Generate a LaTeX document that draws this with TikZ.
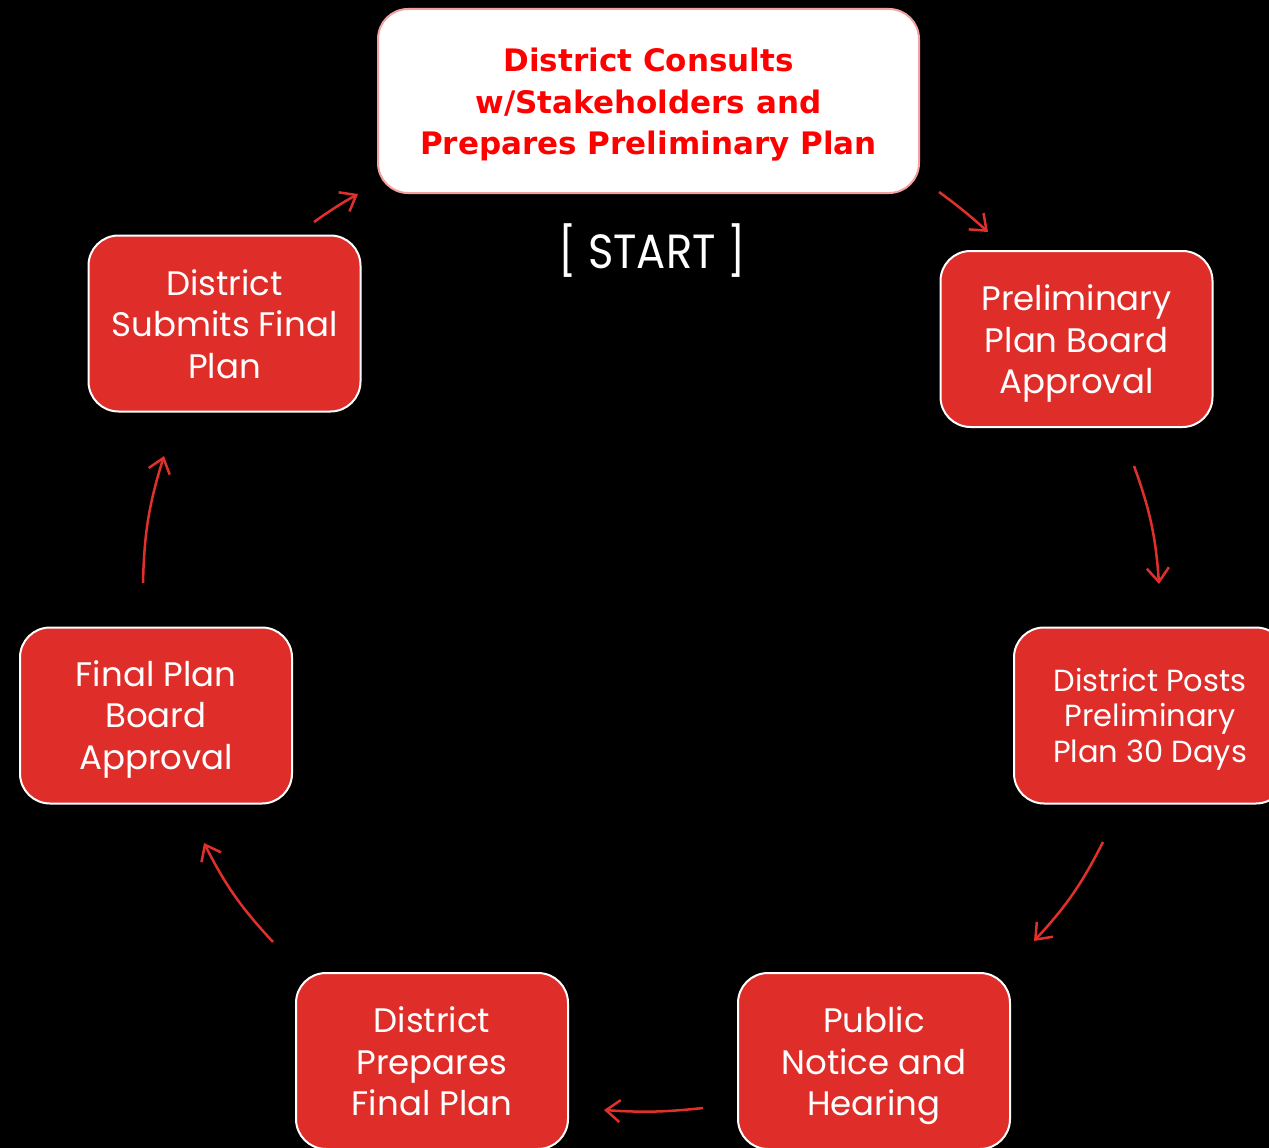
\documentclass[tikz,border=0pt]{standalone}
\usepackage{fontspec}
\setmainfont{Poppins}
\newfontfamily\boldfont{DejaVu Sans}
\usetikzlibrary{arrows.meta}
\definecolor{boxred}{HTML}{DF2E2A}
\definecolor{arrred}{HTML}{E0302C}
\definecolor{txtred}{HTML}{FF0000}
\definecolor{pinkedge}{HTML}{F4A0A0}
\newcommand{\dn}[2]{\raisebox{-#1}[\height][\depth]{\begin{tabular}{@{}c@{}}#2\end{tabular}}}
\begin{document}
\begin{tikzpicture}[x=1pt,y=-1pt,
  stepbox/.style={draw=white, line width=2pt, fill=boxred, rounded corners=30pt,
    minimum width=272pt, minimum height=176pt, text=white, align=center,
    inner sep=0pt, font=\fontsize{34}{41.5}\selectfont},
  topbox/.style={draw=pinkedge, line width=2pt, fill=white, rounded corners=30pt,
    minimum width=541pt, minimum height=184pt, text=txtred, align=center,
    inner sep=0pt, font=\boldfont\bfseries\fontsize{31}{41.5}\selectfont},
  cyc/.style={draw=arrred, line width=2.5pt, -{Straight Barb[length=14pt,width=22pt,line width=2.5pt]}}
]
\fill[black] (0,0) rectangle (1269,1148);
\useasboundingbox (0,0) rectangle (1269,1148);

\node[topbox] (top) at (648.5,101) {\dn{4pt}{District Consults\\w/Stakeholders and\\Prepares Preliminary Plan}};
\node[text=white, font=\fontsize{48}{56}\selectfont\addfontfeatures{FakeStretch=0.9}] (start) at (652,251) {[ START ]};

\node[stepbox] (pba) at (1076.5,339) {\dn{5pt}{Preliminary\\Plan Board\\Approval}};
\node[stepbox, font=\fontsize{30.5}{35.5}\selectfont] (posts) at (1150,715.5) {\dn{4pt}{District Posts\\Preliminary\\Plan 30 Days}};
\node[stepbox] (pub) at (874,1061) {\dn{5pt}{Public\\Notice and\\Hearing}};
\node[stepbox] (prep) at (432,1061) {\dn{5pt}{District\\Prepares\\Final Plan}};
\node[stepbox] (fba) at (156,715.5) {\dn{4pt}{Final Plan\\Board\\Approval}};
\node[stepbox] (sub) at (224.5,323.5) {\dn{5pt}{District\\Submits Final\\Plan}};

\coordinate (a1s) at (939,192); \coordinate (a1e) at (988,232);
\coordinate (a2s) at (1134,466); \coordinate (a2e) at (1159,584);
\coordinate (a3s) at (1103,842); \coordinate (a3e) at (1034,941);
\coordinate (a4s) at (703,1108); \coordinate (a4e) at (604,1110);
\coordinate (a5s) at (273,942); \coordinate (a5e) at (204,843);
\coordinate (a6s) at (143,583); \coordinate (a6e) at (164,456);
\coordinate (a7s) at (314,222); \coordinate (a7e) at (358,194);

\draw[cyc] (a1s) to[bend left=3] (a1e);
\draw[cyc] (a2s) to[bend left=8] (a2e);
\draw[cyc] (a3s) to[bend left=8] (a3e);
\draw[cyc] (a4s) to[bend left=5] (a4e);
\draw[cyc] (a5s) to[bend left=8] (a5e);
\draw[cyc] (a6s) to[bend left=8] (a6e);
\draw[cyc] (a7s) to[bend left=3] (a7e);
\end{tikzpicture}
\end{document}
